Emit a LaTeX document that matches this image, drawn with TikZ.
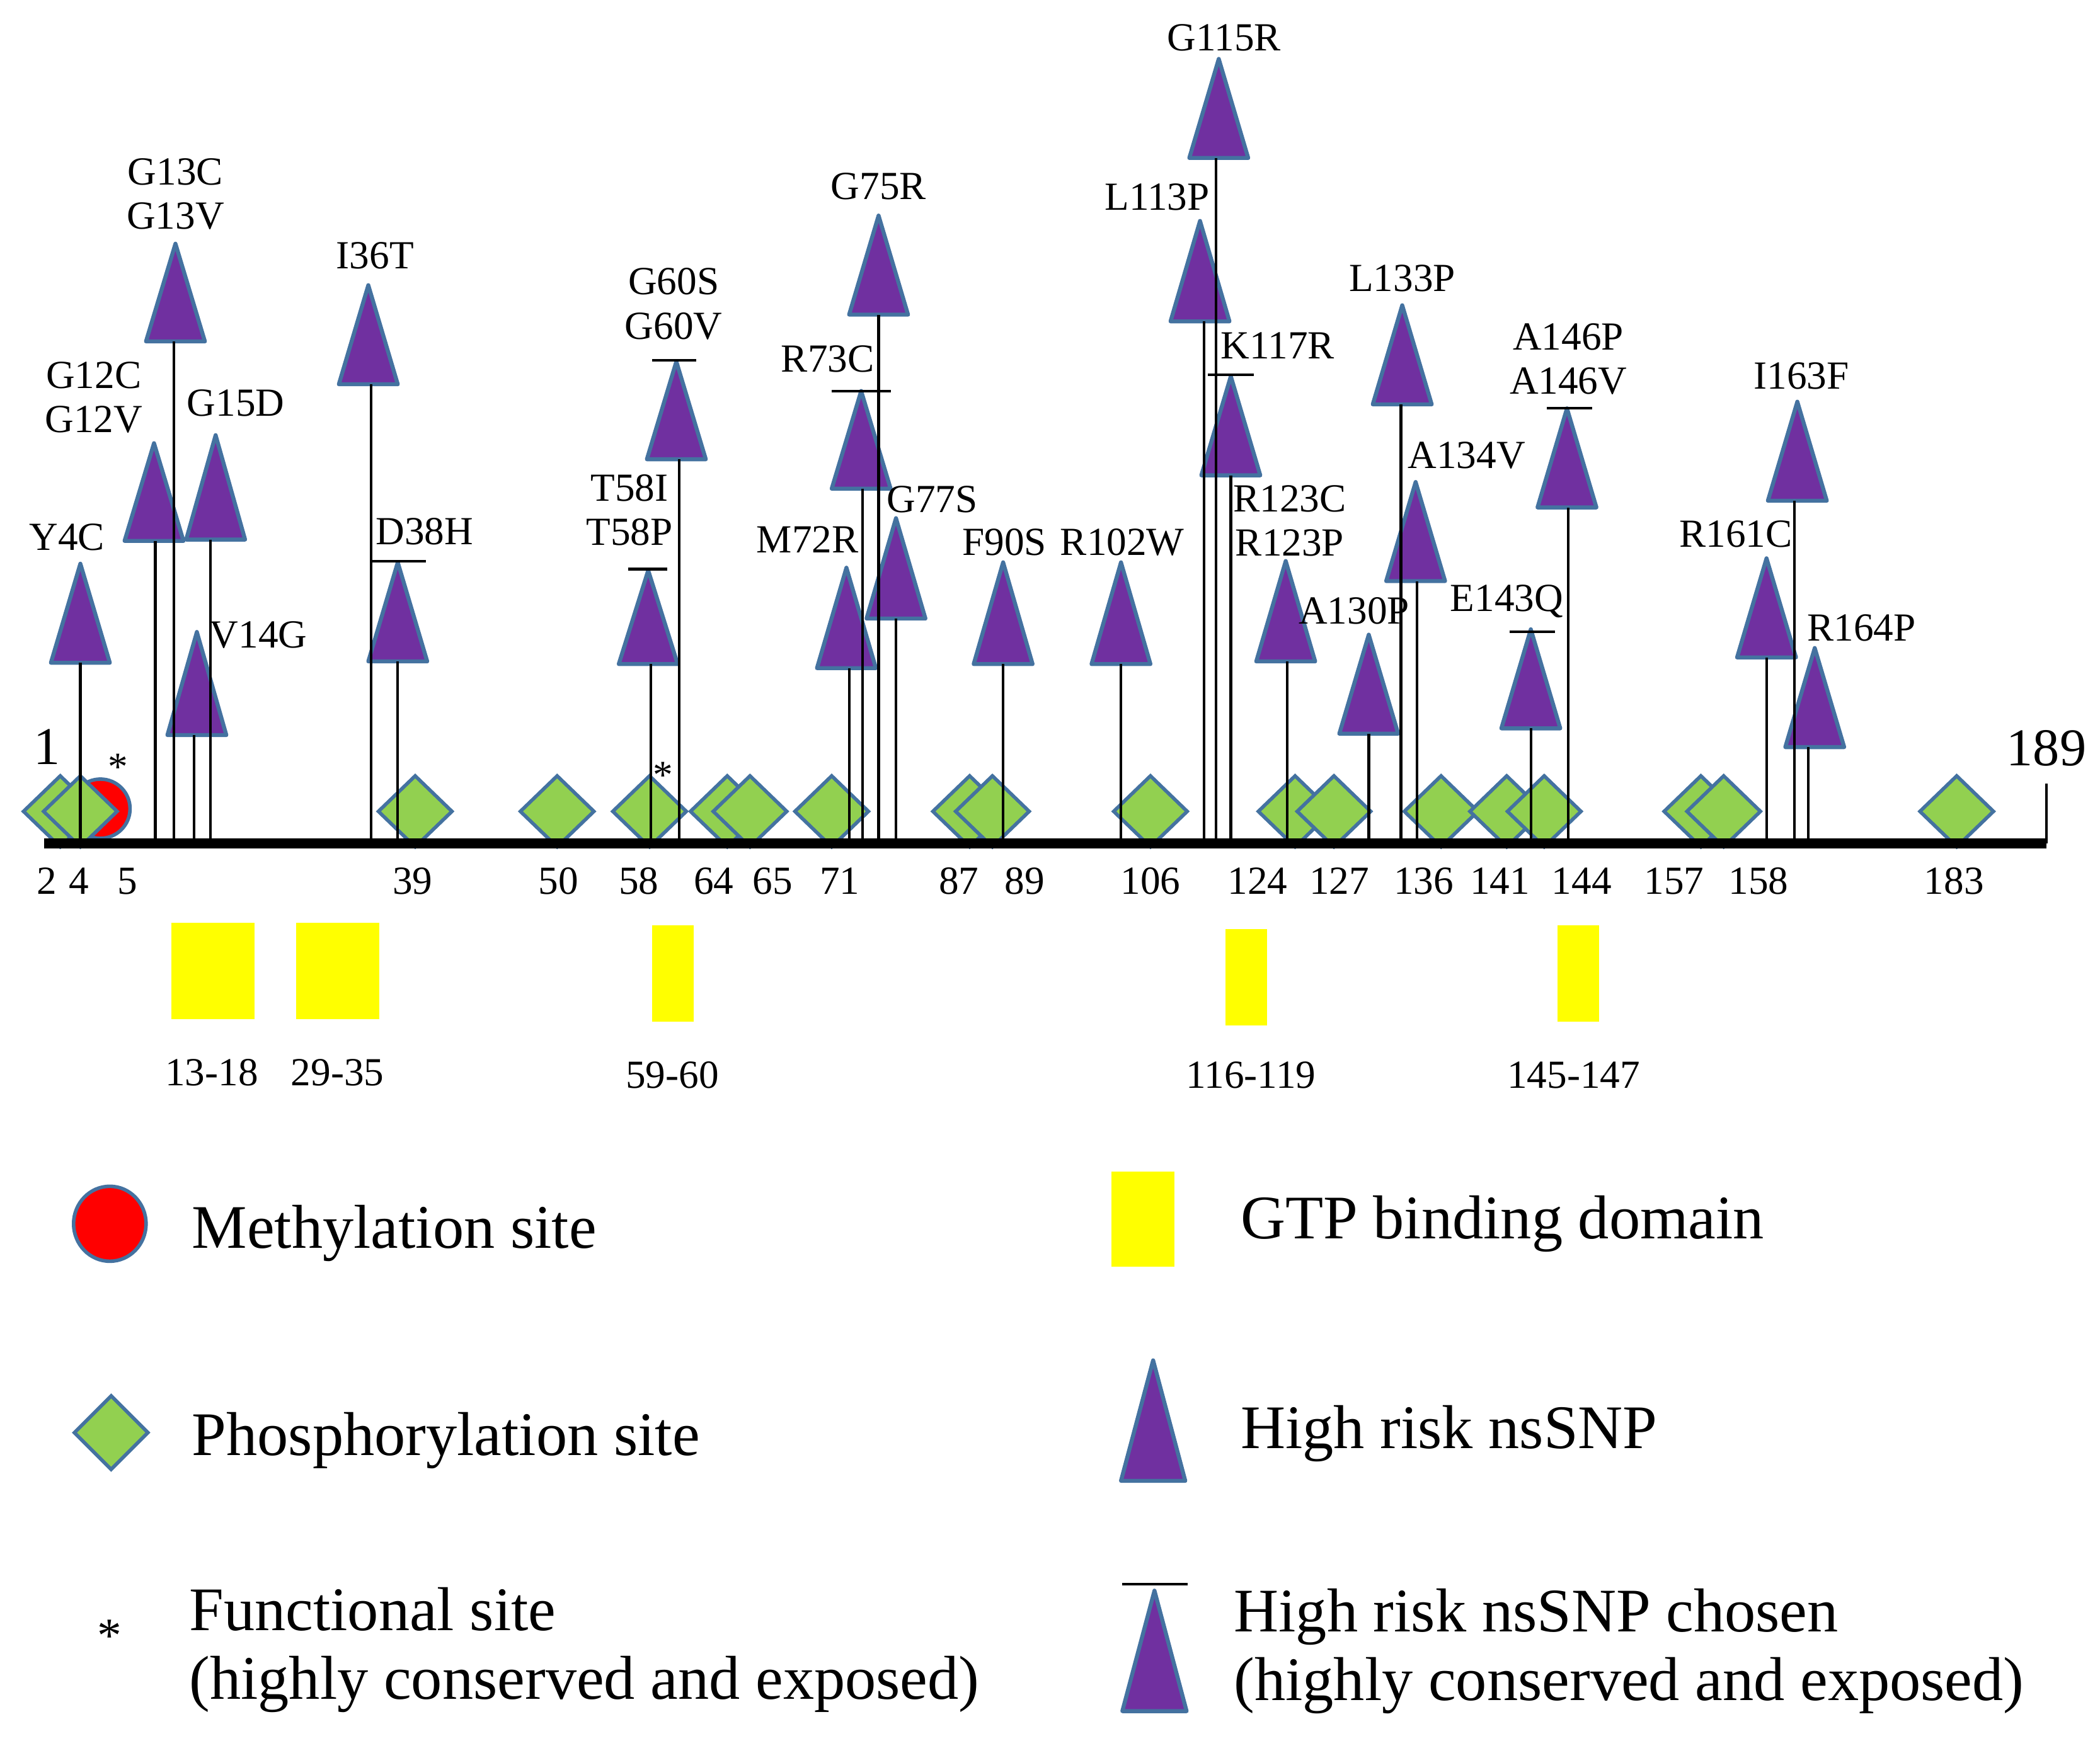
\documentclass[tikz,border=0pt]{standalone}
\usepackage{fontspec}
\setmainfont{Liberation Serif}
\usetikzlibrary{shapes.geometric}
\definecolor{snppurple}{RGB}{112,48,160}
\definecolor{siteblue}{RGB}{68,114,160}
\definecolor{phosgreen}{RGB}{146,208,80}
\definecolor{gtpyellow}{RGB}{255,255,0}
\tikzset{
  tri/.style={fill=snppurple,draw=siteblue,line width=1.8pt,line join=round},
  stem/.style={line width=1.2pt},
  dia/.style={diamond,fill=phosgreen,draw=siteblue,line width=1.6pt,inner sep=0pt,minimum width=11.9mm,minimum height=11.5mm},
  meth/.style={fill=red,draw=siteblue,line width=1.6pt,inner sep=0pt},
  mut/.style={font=\fontsize{18}{20}\selectfont,inner sep=0pt,align=center},
  num/.style={font=\fontsize{18}{20}\selectfont,inner sep=0pt},
  big/.style={font=\fontsize{24}{26}\selectfont,inner sep=0pt},
  legtxt/.style={font=\fontsize{28}{31}\selectfont,inner sep=0pt,anchor=base west,align=left},
  gtp/.style={fill=gtpyellow},
}
\begin{document}
\begin{tikzpicture}[x=0.2126mm,y=-0.2126mm]
\useasboundingbox (0,0) rectangle (1568,1300);
\coordinate (ax) at (33,630);
\coordinate (axend) at (1528,630);
% methylation site and phosphorylation sites
\node[meth,circle,minimum size=9.4mm] (m5) at (75,604) {};
\foreach \x [count=\i] in {45,60,310,416,485,543,560,621,724,741,859,967,996,1076,1125,1153,1270,1287,1461}
  \node[dia] (p\i) at (\x,606) {};
% high risk nsSNPs
\foreach \n/\x/\t/\b/\s in {y4c/60/421/495/60, g12/115/331/404/116, g13/131/182/255/130, v14g/147/472/549/145,
    g15d/161/325/403/157, i36t/275/213/287/277, d38h/297/420/494/297, t58/484/426/496/486, g60/505/270/343/507,
    m72r/632/424/499/634, r73c/643/292/365/644, g75r/656/161/235/656, g77s/669/387/462/669, f90s/749/420/496/749,
    r102w/837/420/496/837, l113p/896/165/240/899, g115r/910/44/118/908, k117r/919/281/355/919, r123/960/419/494/961,
    a130p/1022/474/548/1022, l133p/1047/228/302/1046, a134v/1057/360/434/1058, e143q/1143/470/544/1143,
    a146/1170/305/379/1171, r161c/1319/417/491/1319, i163f/1342/300/374/1340, r164p/1355/484/558/1350}
{
  \draw[tri] (\x,\t) -- (\x+22,\b) -- (\x-22,\b) -- cycle;
  \coordinate (\n) at (\s,\b);
}
\foreach \n in {y4c,g12,g13,v14g,g15d,i36t,d38h,t58,g60,m72r,r73c,g75r,g77s,f90s,r102w,l113p,g115r,k117r,r123,a130p,l133p,a134v,e143q,a146,r161c,i163f,r164p}
  \draw[stem] (\n) -- (\n |- ax);
% chosen ones
\foreach \a/\b/\y in {277/318/419, 469/498/425, 487/520/269, 621/665/292, 902/936/280, 1127/1161/472, 1155/1189/305}
  \draw[stem] (\a,\y) -- (\b,\y);
% protein axis
\draw[line width=4.4pt] (ax) -- (axend);
\draw[stem] (axend) -- ++(0,-45);
\node[big] (n1) at (35,558) {1};
\node[big] (n189) at (1528,559) {189};
\foreach \x/\t in {35/2,59/4,95/5,308/39,417/50,477/58,533/64,577/65,627/71,716/87,765/89,859/106,939/124,1000/127,1063/136,1120/141,1181/144,1250/157,1313/158,1459/183}
  \node[num] (n\t) at (\x,658) {\t};
\node[font=\fontsize{18}{20}\selectfont,inner sep=0pt] (fs1) at (88,573) {*};
\node[font=\fontsize{18}{20}\selectfont,inner sep=0pt] (fs2) at (495,579) {*};
\foreach \x/\y/\t [count=\i] in {50/401/Y4C, 70/297/{G12C\\G12V}, 131/145/{G13C\\G13V}, 176/301/G15D, 193/474/V14G,
    280/191/I36T, 317/397/D38H, 470/381/{T58I\\T58P}, 503/227/{G60S\\G60V}, 618/268/R73C, 603/403/M72R,
    656/139/G75R, 696/373/G77S, 750/405/F90S, 838/405/R102W, 864/147/L113P, 914/28/G115R, 954/258/K117R,
    963/389/{R123C\\R123P}, 1011/456/A130P, 1047/208/L133P, 1095/340/A134V, 1125/449/E143Q,
    1171/268/{A146P\\A146V}, 1296/399/R161C, 1345/281/I163F, 1390/469/R164P}
  \node[mut] (mut\i) at (\x,\y) {\t};
% GTP binding domain
\foreach \a/\b/\c/\d in {128/689/190/761, 221/689/283/761, 487/691/518/763, 915/694/946/766, 1163/691/1194/763}
  \fill[gtp] (\a,\b) rectangle (\c,\d);
\foreach \x/\y/\t in {158/801/13-18, 252/801/29-35, 502/803/59-60, 934/803/116-119, 1175/803/145-147}
  \node[num] (g\t) at (\x,\y) {\t};
% legend
\node[meth,ellipse,minimum width=11.5mm,minimum height=11.9mm] (legmeth) at (82,914) {};
\node[legtxt] (tmeth) at (143,932) {Methylation site};
\node[dia,minimum height=11.9mm] (legphos) at (83,1070) {};
\node[legtxt] (tphos) at (143,1087) {Phosphorylation site};
\node[font=\fontsize{22}{24}\selectfont,inner sep=0pt] (legfs) at (82,1222) {*};
\node[legtxt] (tfunc) at (141,1269) {Functional site\\(highly conserved and exposed)};
\fill[gtp] (830,875) rectangle (877,946);
\node[legtxt] (tgtp) at (926,925) {GTP binding domain};
\draw[tri] (861,1016) -- (885,1106) -- (837,1106) -- cycle;
\node[legtxt] (tsnp) at (926,1082) {High risk nsSNP};
\draw[stem] (838,1183) -- (887,1183);
\draw[tri] (862,1188) -- (886,1278) -- (838,1278) -- cycle;
\node[legtxt] (tchosen) at (921,1270) {High risk nsSNP chosen\\(highly conserved and exposed)};
\end{tikzpicture}
\end{document}
